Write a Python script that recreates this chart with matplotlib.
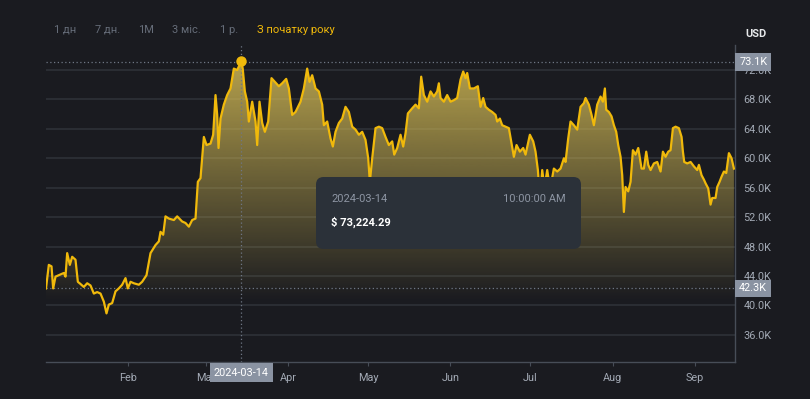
"""YTD price chart, dark exchange style, with a hover tooltip on the peak."""

import matplotlib
import numpy as np
import pandas as pd

matplotlib.use("Agg")
import matplotlib.dates as mdates  # noqa: E402
import matplotlib.pyplot as plt  # noqa: E402
from matplotlib.patches import FancyBboxPatch  # noqa: E402
from matplotlib.ticker import FuncFormatter  # noqa: E402

# --------------------------------------------------------------------------- #
# Data (days since 2024-01-01, price in thousands USD)
# --------------------------------------------------------------------------- #
START = pd.Timestamp("2024-01-01")
day_offsets = [
    0.0, 1.06, 2.07, 2.69, 3.57, 4.82, 6.70, 7.33, 7.96, 8.96, 9.84, 11.09,
    11.97, 12.97, 14.22, 15.48, 16.73, 17.98, 19.23, 20.49, 21.74, 22.74,
    23.62, 24.87, 26.13, 27.38, 28.63, 29.89, 30.76, 31.77, 33.02, 34.90,
    36.15, 37.78, 39.29, 41.17, 42.42, 43.05, 44.05, 44.92, 46.18, 48.06,
    49.31, 51.19, 52.44, 53.70, 54.95, 56.20, 57.08, 58.08, 59.34, 60.34,
    61.84, 62.84, 63.72, 64.35, 64.85, 65.60, 66.85, 68.10, 69.36, 70.61,
    71.87, 73.42, 73.95, 74.75, 75.63, 76.25, 77.51, 78.76, 79.39, 80.26,
    81.27, 82.27, 83.52, 84.77, 86.03, 87.53, 88.78, 90.29, 91.29, 92.54,
    93.80, 95.68, 96.93, 98.18, 99.06, 100.06, 101.32, 102.57, 103.82,
    104.45, 105.70, 106.95, 107.83, 108.83, 110.09, 111.34, 112.59, 113.85,
    115.10, 116.35, 117.61, 118.86, 120.11, 121.12, 121.74, 122.62, 123.87,
    125.13, 126.38, 127.63, 128.88, 130.14, 130.90, 132.02, 133.27, 134.27,
    135.15, 136.03, 137.66, 138.91, 140.16, 141.04, 142.04, 143.30, 144.55,
    145.80, 147.06, 147.68, 148.31, 149.56, 150.81, 152.07, 153.32, 154.57,
    155.83, 156.83, 157.71, 158.33, 159.34, 160.84, 162.34, 163.35, 164.35,
    165.23, 166.48, 167.73, 168.99, 169.61, 170.61, 171.49, 172.74, 174.00,
    174.88, 175.88, 176.88, 178.13, 179.38, 180.26, 181.89, 183.14, 184.02,
    184.90, 185.70, 186.53, 187.40, 188.41, 189.50, 190.91, 192.17, 193.42,
    194.68, 195.30, 196.30, 197.18, 198.43, 199.69, 200.94, 202.19, 202.82,
    204.07, 205.08, 205.95, 207.21, 208.46, 209.34, 210.09, 210.59, 211.59,
    212.59, 213.47, 214.35, 215.10, 215.98, 216.60, 217.23, 217.86, 218.86,
    219.74, 220.62, 221.62, 222.63, 223.88, 224.76, 225.63, 226.39, 227.26,
    228.51, 229.77, 231.02, 231.90, 232.90, 233.90, 234.78, 235.66, 236.66,
    237.91, 238.92, 239.42, 239.92, 241.04, 242.30, 243.55, 244.80, 245.43,
    246.43, 247.31, 247.93, 248.94, 249.81, 250.44, 251.69, 252.32, 253.20,
    253.95, 254.83, 255.71, 256.71, 257.71, 258.59,
]
price_k = [
    42.3, 45.5, 45.3, 42.3, 43.9, 44.1, 44.4, 43.9, 47.1, 45.5, 46.6, 46.2,
    43.2, 42.9, 42.5, 43.0, 42.7, 41.6, 41.8, 41.6, 40.5, 38.9,
    40.1, 40.3, 41.9, 42.3, 42.8, 43.7, 42.3, 43.2, 43.0, 42.8,
    43.2, 44.1, 47.1, 48.2, 48.7, 50.0, 49.6, 52.1, 51.8, 51.6,
    52.1, 51.4, 51.2, 50.7, 51.6, 51.8, 56.8, 57.3, 62.9, 61.8,
    62.0, 63.2, 68.6, 65.9, 61.4, 65.4, 67.3, 68.6, 69.5, 72.2,
    72.0, 73.22429, 72.2, 69.1, 67.7, 65.0, 67.7, 65.0, 61.8, 67.7,
    64.8, 63.6, 65.0, 70.9, 70.4, 69.8, 70.2, 70.8, 69.5, 65.9,
    66.3, 67.7, 69.5, 72.2, 70.4, 71.3, 69.5, 69.1, 67.3,
    64.5, 65.0, 62.7, 61.6, 63.6, 64.8, 65.4, 67.0, 66.3,
    64.3, 63.9, 63.2, 63.6, 62.5, 60.0, 56.8, 60.0, 64.1,
    64.3, 64.1, 62.9, 61.8, 62.3, 60.5, 61.4, 63.2, 61.6,
    63.4, 66.1, 66.8, 67.3, 66.8, 71.1, 68.6, 67.7, 69.1,
    68.4, 69.1, 70.2, 68.2, 67.7, 68.6, 67.7, 67.9, 68.2,
    70.7, 71.8, 70.9, 71.6, 69.5, 69.5, 69.8, 67.0, 68.2,
    67.0, 66.6, 66.3, 65.9, 65.0, 65.4, 64.5, 64.3, 64.1,
    62.3, 60.2, 61.8, 60.9, 61.4, 60.5, 63.2, 62.3, 60.9,
    58.4, 54.5, 58.4, 56.0, 58.4, 55.8, 58.6, 58.2, 58.6,
    60.0, 59.5, 62.7, 65.0, 64.5, 63.9, 67.0, 67.5, 68.2,
    67.3, 65.9, 64.5, 67.3, 68.4, 67.7, 69.5, 66.6, 66.3,
    65.7, 64.5, 63.6, 61.8, 60.2, 57.7, 52.7, 56.1, 55.5,
    56.8, 61.1, 60.5, 61.4, 58.6, 58.6, 60.9, 59.1, 58.4,
    59.3, 59.5, 58.2, 60.9, 60.2, 60.9, 61.1, 64.1, 64.3,
    64.1, 62.9, 60.9, 59.5, 59.3, 59.5, 58.9, 58.4, 59.1,
    57.7, 57.1, 56.6, 55.9, 53.7, 54.6, 54.6, 56.1, 56.8,
    57.5, 58.2, 58.0, 60.7, 60.0, 58.6,
]
ytick_values = [36, 40, 44, 48, 52, 56, 60, 64, 68, 72]
range_tabs = ["1 дн", "7 дн.", "1M", "3 міс.", "1 р.", "З початку року"]
first_price_k = 42.3
peak_time = pd.Timestamp("2024-03-14 10:00")
peak_price = 73224.29

BG = "#1a1b20"
GRID = "#2f333a"
AXIS = "#474d57"
TICK_TXT = "#a3aab5"
YELLOW = "#f0b90b"

plt.rcParams["font.family"] = ["Roboto", "DejaVu Sans"]

dates = START + pd.to_timedelta(day_offsets, unit="D")
x = mdates.date2num(dates)
y = np.array(price_k)

fig = plt.figure(figsize=(8.1, 3.99), dpi=100, facecolor=BG)
ax = fig.add_axes([46 / 810, 37 / 399, 689 / 810, 317 / 399])
ax.set_facecolor(BG)

x0 = mdates.date2num(START)
ax.set_xlim(x0, x0 + 259.0)
ax.set_ylim(32.29, 75.41)

# grid
for v in ytick_values:
    ax.axhline(v, color=GRID, lw=1.1, zorder=0)

# gradient fill under the line
ylo, yhi = ax.get_ylim()
grad_y = np.linspace(ylo, yhi, 256)
alpha = np.clip((grad_y - 40.5) / (yhi - 40.5), 0, 1) * 0.85
rgba = np.zeros((256, 1, 4))
rgba[:, 0, 0] = 222 / 255
rgba[:, 0, 1] = 196 / 255
rgba[:, 0, 2] = 88 / 255
rgba[:, 0, 3] = alpha
poly = ax.fill_between(x, y, ylo, facecolor="none", edgecolor="none")
im = ax.imshow(rgba, extent=[x[0], x[-1], ylo, yhi], origin="lower",
               aspect="auto", zorder=1)
im.set_clip_path(poly.get_paths()[0], transform=ax.transData)

ax.plot(x, y, color=YELLOW, lw=1.6, zorder=3, solid_joinstyle="round")

# crosshair + reference lines
px = mdates.date2num(peak_time)
dot = dict(color="#6f7785", lw=0.9, ls=(0, (1, 2)), zorder=2)
ax.axvline(px, **dot)
ax.axhline(peak_price / 1000 - 0.12, **dot)
ax.axhline(first_price_k, **dot)
ax.plot([px], [peak_price / 1000], "o", ms=6.5, color=YELLOW, zorder=4)

# axes styling
for side in ("left", "top"):
    ax.spines[side].set_visible(False)
for side in ("right", "bottom"):
    ax.spines[side].set_color(AXIS)
    ax.spines[side].set_linewidth(1.0)
ax.yaxis.tick_right()
ax.set_yticks(ytick_values)
ax.yaxis.set_major_formatter(FuncFormatter(lambda v, _: f"{v:.1f}K"))
ax.tick_params(axis="y", length=0, pad=6, labelsize=7.8, labelcolor=TICK_TXT)
ax.xaxis.set_major_locator(mdates.MonthLocator(bymonth=range(2, 10)))
ax.xaxis.set_major_formatter(mdates.DateFormatter("%b"))
ax.tick_params(axis="x", length=3, width=0.8, color=AXIS, pad=5,
               labelsize=7.8, labelcolor=TICK_TXT)

# price badges on the right axis
badge = dict(boxstyle="square,pad=0.35", fc="#8a93a2", ec="none")
for val, txt in [(peak_price / 1000 - 0.12, "73.1K"), (first_price_k, "42.3K")]:
    ax.annotate(txt, xy=(1, val), xycoords=("axes fraction", "data"),
                xytext=(3.0, 0), textcoords="offset points", ha="left",
                va="center", fontsize=7.8, color="white", bbox=badge,
                annotation_clip=False, zorder=6)

# date badge on the x axis
ax.annotate(peak_time.strftime("%Y-%m-%d"), xy=(px, 0),
            xycoords=("data", "axes fraction"), xytext=(0, -7.6),
            textcoords="offset points", ha="center", va="center",
            fontsize=7.8, color="white",
            bbox=dict(boxstyle="square,pad=0.4", fc="#8a93a2", ec="none"),
            annotation_clip=False, zorder=6)

# tooltip
tx0, tx1 = (316 - 46) / 689, (581 - 46) / 689
ty0, ty1 = (362 - 249) / 317, (362 - 177) / 317
tip = FancyBboxPatch((tx0, ty0), tx1 - tx0, ty1 - ty0,
                     boxstyle="round,pad=0,rounding_size=0.011",
                     mutation_aspect=689 / 317, transform=ax.transAxes,
                     fc="#2b3139", ec="none", zorder=7)
ax.add_patch(tip)
ax.text(tx0 + 15 / 689, ty1 - 22 / 317, peak_time.strftime("%Y-%m-%d"),
        transform=ax.transAxes, fontsize=8, color="#8d95a3", va="center",
        zorder=8)
ax.text(tx1 - 15 / 689, ty1 - 22 / 317, peak_time.strftime("%I:%M:%S %p"),
        transform=ax.transAxes, fontsize=8, color="#8d95a3", va="center",
        ha="right", zorder=8)
ax.text(tx0 + 15 / 689, ty1 - 45 / 317, f"$ {peak_price:,.2f}",
        transform=ax.transAxes, fontsize=8, color="white", weight="bold",
        va="center", zorder=8)

# range tabs and currency label
tab_x = [54, 95, 138, 172, 220, 257]
for i, (lbl, tx) in enumerate(zip(range_tabs, tab_x)):
    fig.text(tx / 810, 1 - 30 / 399, lbl, fontsize=8, va="center",
             color=YELLOW if i == len(range_tabs) - 1 else "#666d79")
fig.text(745 / 810, 1 - 34 / 399, "USD", fontsize=8, weight="bold",
         color="#e6e8ea", va="center")

fig.savefig("out.png", dpi=100, facecolor=BG)
